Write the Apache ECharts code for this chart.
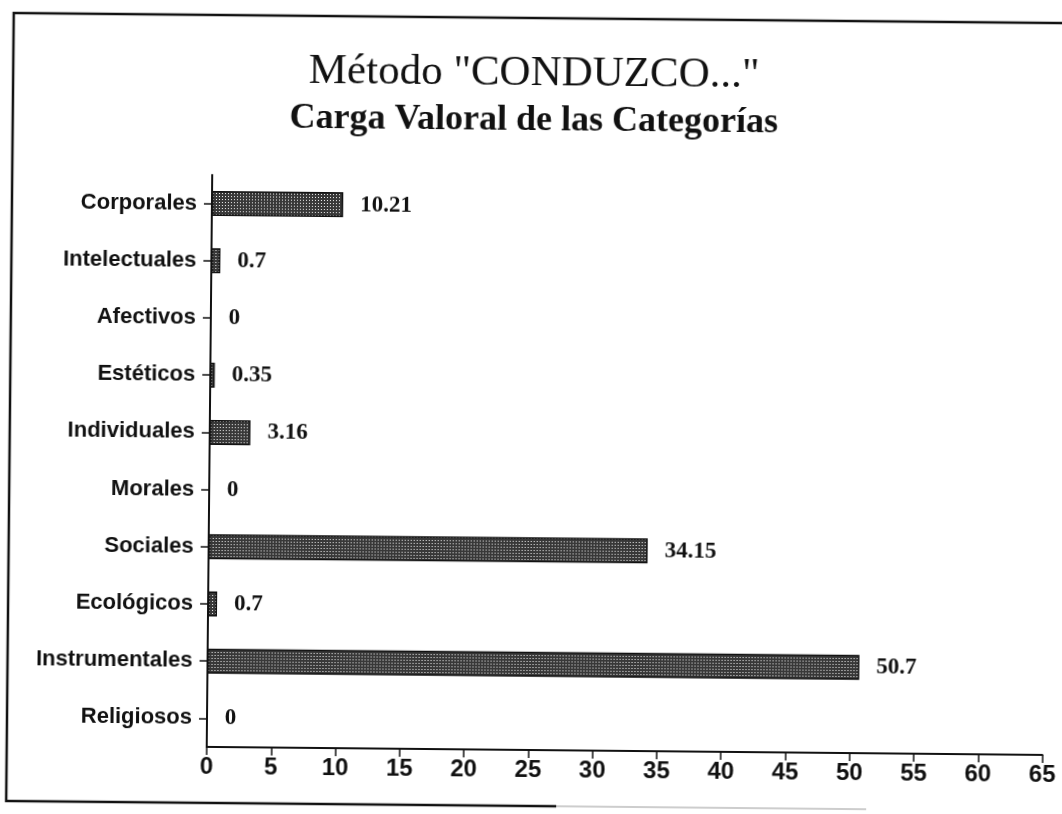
<!DOCTYPE html>
<html>
<head>
<meta charset="utf-8">
<script src="https://cdn.jsdelivr.net/npm/echarts@6/dist/echarts.min.js"></script>
<style>
  html, body { margin: 0; padding: 0; background: #fff; overflow: hidden; }
  /* the scanned page sits slightly turned */
  #chart { width: 1062px; height: 814px; transform: rotate(0.55deg); transform-origin: 531px 407px; }
</style>
</head>
<body>
<div id="chart"></div>
<script>
  // categories top to bottom
  let categorias = ['Corporales', 'Intelectuales', 'Afectivos', 'Estéticos', 'Individuales',
                    'Morales', 'Sociales', 'Ecológicos', 'Instrumentales', 'Religiosos']
  let valores = [10.21, 0.7, 0, 0.35, 3.16, 0, 34.15, 0.7, 50.7, 0]
  let xTicks = [0, 5, 10, 15, 20, 25, 30, 35, 40, 45, 50, 55, 60, 65]

  // dotted fill like the printed screen: light dots on dark ground
  let pat = document.createElement('canvas')
  pat.width = 3
  pat.height = 3
  let ctx = pat.getContext('2d')
  ctx.fillStyle = '#383838'
  ctx.fillRect(0, 0, 3, 3)
  ctx.fillStyle = '#f2f2f2'
  ctx.fillRect(1, 1, 1, 1)

  let myChart = echarts.init(document.getElementById('chart'))

  let option = {
      backgroundColor: '#fff',
      animation: false,
      title: [
          {
              text: 'Método "CONDUZCO..."',
              left: 'center',
              top: 47,
              textStyle: { fontFamily: 'Liberation Serif', fontWeight: 'normal', fontSize: 43, color: '#111' }
          },
          {
              text: 'Carga Valoral de las Categorías',
              left: 'center',
              top: 98,
              textStyle: { fontFamily: 'Liberation Serif', fontWeight: 'bold', fontSize: 36, color: '#111' }
          }
      ],
      graphic: [
          {
              type: 'polyline',
              shape: { points: [[1070, 18], [10, 18], [10, 806], [560, 806]] },
              style: { stroke: '#111', lineWidth: 2.5, fill: null }
          },
          {
              type: 'line',
              shape: { x1: 560, y1: 806, x2: 870, y2: 806 },
              style: { stroke: '#bdbdbd', lineWidth: 1.5 }
          }
      ],
      grid: {
          left: 210,
          right: 14,
          top: 178,
          bottom: 64,
          containLabel: false
      },
      xAxis: {
          type: 'value',
          min: xTicks[0],
          max: xTicks[xTicks.length - 1],
          interval: 5,
          splitLine: { show: false },
          axisLine: { show: true, lineStyle: { color: '#111', width: 2 } },
          axisTick: { show: true, length: 8, lineStyle: { color: '#111', width: 1.5 } },
          axisLabel: {
              margin: 8,
              color: '#111',
              fontFamily: 'Liberation Sans',
              fontWeight: 'bold',
              fontSize: 24
          }
      },
      yAxis: {
          type: 'category',
          data: categorias,
          inverse: true,
          axisLine: { show: true, lineStyle: { color: '#111', width: 2 } },
          axisTick: { show: true, alignWithLabel: true, length: 8, lineStyle: { color: '#111', width: 1.5 } },
          axisLabel: {
              margin: 15,
              color: '#111',
              fontFamily: 'Liberation Sans',
              fontWeight: 'bold',
              fontSize: 22
          }
      },
      series: [
          {
              type: 'bar',
              data: valores,
              barWidth: 25,
              itemStyle: {
                  color: { image: pat, repeat: 'repeat' },
                  borderColor: '#111',
                  borderWidth: 1.5
              },
              label: {
                  show: true,
                  position: 'right',
                  distance: 17,
                  color: '#111',
                  fontFamily: 'Liberation Serif',
                  fontWeight: 'bold',
                  fontSize: 23
              }
          }
      ]
  }

  myChart.setOption(option, true)
</script>
</body>
</html>
